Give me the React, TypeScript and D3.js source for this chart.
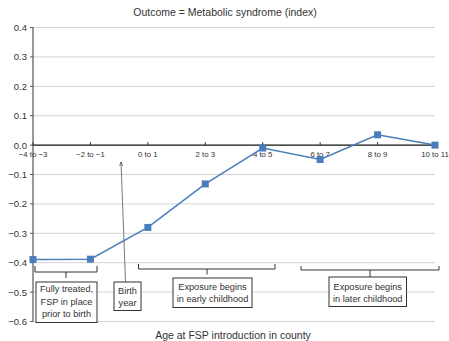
import React from "react";
import * as d3 from "d3";

const categories = ["\u22124 to \u22123", "\u22122 to \u22121", "0 to 1", "2 to 3", "4 to 5", "6 to 7", "8 to 9", "10 to 11"];
const values = [-0.389, -0.388, -0.28, -0.132, -0.01, -0.049, 0.035, 0.0];
const yTicks = [0.4, 0.3, 0.2, 0.1, 0.0, -0.1, -0.2, -0.3, -0.4, -0.5, -0.6];
const title = "Outcome = Metabolic syndrome (index)";
const xTitle = "Age at FSP introduction in county";

const W = 449, H = 341;
const FONT = "'Liberation Sans', Arial, Helvetica, sans-serif";

function fmt(v: number) {
  const s = Math.abs(v).toFixed(1);
  return v < -1e-9 ? "\u2212" + s : s;
}

export default function App() {
  const x = d3.scalePoint<string>().domain(categories).range([33, 435]);
  const y = d3.scaleLinear().domain([-0.6, 0.4]).range([321.5, 27.5]);
  const line = d3.line<number>().x((_, i) => x(categories[i])!).y((d) => y(d));
  const blue = "#4a7ebb";
  const textCol = "#333";

  const box = (x0: number, y0: number, x1: number, y1: number, lines: string[], ys: number[]) => (
    <g>
      <rect x={x0} y={y0} width={x1 - x0} height={y1 - y0} fill="#fff" stroke="#333" strokeWidth={1} />
      {lines.map((t, i) => (
        <text key={i} x={(x0 + x1) / 2} y={ys[i]} textAnchor="middle" dominantBaseline="central" fontSize={9.2} fill={textCol} fontFamily={FONT}>{t}</text>
      ))}
    </g>
  );
  const bracket = (x0: number, x1: number, yTop: number, yH: number, xm: number, yM: number) => (
    <path d={`M${x0},${yTop}V${yH}H${x1}V${yTop}M${xm},${yH}V${yM}`} fill="none" stroke="#333" strokeWidth={1} />
  );

  return (
    <svg width={W} height={H} style={{ position: "absolute", left: 0, top: 0, background: "#fff" }}>
      <text x={225} y={12} textAnchor="middle" dominantBaseline="central" fontSize={10.5} fill={textCol} fontFamily={FONT}>{title}</text>
      {yTicks.map((t) => (
        <g key={t}>
          {Math.abs(t) > 1e-9 && <line x1={33} x2={435} y1={y(t)} y2={y(t)} stroke="#d4d4d4" strokeWidth={1} />}
          <line x1={30} x2={33} y1={y(t)} y2={y(t)} stroke="#555" strokeWidth={1} />
          <text x={27} y={y(t)} textAnchor="end" dominantBaseline="central" fontSize={9.5} fill={textCol} fontFamily={FONT}>{fmt(t)}</text>
        </g>
      ))}
      <line x1={33} x2={33} y1={y(0.4)} y2={y(-0.6)} stroke="#555" strokeWidth={1.2} />
      <line x1={33} x2={437} y1={y(0)} y2={y(0)} stroke="#111" strokeWidth={1.2} />
      {categories.map((c) => (
        <g key={c}>
          <line x1={x(c)!} x2={x(c)!} y1={y(0) - 3} y2={y(0)} stroke="#333" strokeWidth={1} />
          <text x={x(c)!} y={154} textAnchor="middle" dominantBaseline="central" fontSize={7.8} fill={textCol} fontFamily={FONT}>{c}</text>
        </g>
      ))}
      {/* birth year arrow */}
      <defs>
        <marker id="arr" viewBox="0 0 10 10" refX={10} refY={5} markerWidth={5} markerHeight={5} orient="auto">
          <path d="M0,1L10,5L0,9" fill="none" stroke="#333" strokeWidth={1.5} />
        </marker>
      </defs>
      <line x1={125.5} y1={282} x2={121} y2={162} stroke="#555" strokeWidth={0.8} markerEnd="url(#arr)" />
      <path d={line(values) || ""} fill="none" stroke={blue} strokeWidth={1.5} />
      {values.map((v, i) => (
        <rect key={i} x={x(categories[i])! - 3.5} y={y(v) - 3.5} width={7} height={7} fill={blue} />
      ))}
      {bracket(35, 97, 266, 272, 66, 278)}
      {box(36, 282, 97, 322.5, ["Fully treated,", "FSP in place", "prior to birth"], [289, 301.5, 313.5])}
      {box(114, 282, 141, 310.5, ["Birth", "year"], [290.5, 302.5])}
      {bracket(138.5, 275, 264, 269, 207, 274.5)}
      {box(173, 278, 252, 307.5, ["Exposure begins", "in early childhood"], [287, 299])}
      {bracket(301, 439, 266, 270, 370, 277)}
      {box(329, 277, 406.5, 306.5, ["Exposure begins", "in later childhood"], [287, 298.5])}
      <text x={233} y={335} textAnchor="middle" dominantBaseline="central" fontSize={10.5} fill={textCol} fontFamily={FONT}>{xTitle}</text>
    </svg>
  );
}
